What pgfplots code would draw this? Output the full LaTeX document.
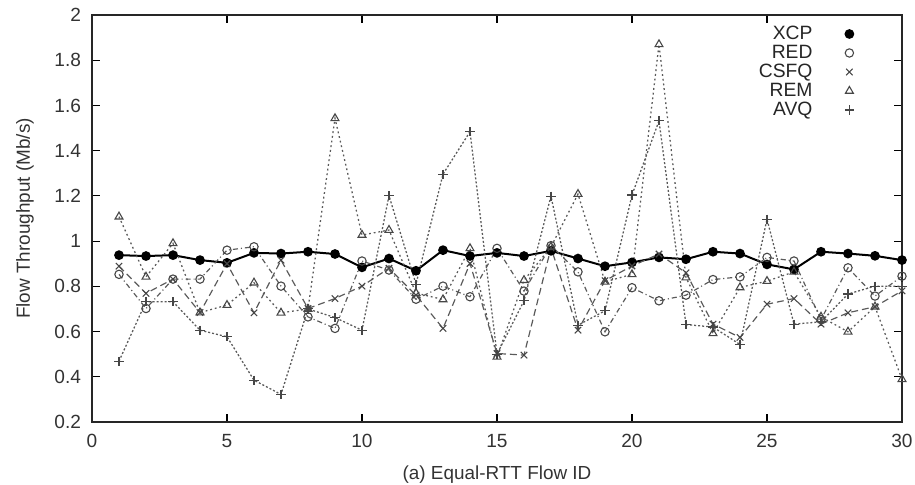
\documentclass[border=0pt]{standalone}
\usepackage{fontspec}
\setmainfont{Liberation Sans}
\usepackage{pgfplots}
\pgfplotsset{compat=1.18}
\definecolor{ln}{RGB}{90,90,90}
\definecolor{mk}{RGB}{70,70,70}
\begin{document}
\begin{tikzpicture}
\begin{axis}[
  name=ax, at={(0,0)}, anchor=south west,
  scale only axis, width=445.5pt, height=223.85pt,
  xmin=0, xmax=30, ymin=0.2, ymax=2,
  xtick={0,5,10,15,20,25,30},
  ytick={0.2,0.4,0.6,0.8,1,1.2,1.4,1.6,1.8,2},
  tick align=inside, major tick length=4.4pt,
  tick style={line width=0.6pt, black},
  axis line style={line width=0.8pt, black!85},
  /pgf/number format/assume math mode=true,
  tick label style={font=\fontsize{10.5}{12}\selectfont, text=black!80},
  xticklabel style={yshift=-3pt},
  yticklabel style={xshift=-2.5pt},
  xlabel={(a) Equal-RTT Flow ID},
  ylabel={Flow Throughput (Mb/s)},
  label style={font=\fontsize{10.4}{12}\selectfont, text=black!80},
  xlabel style={yshift=-3pt},
  ylabel style={yshift=4.5pt},
  legend cell align=right,
  legend plot pos=right,
  legend style={at={(rel axis cs:0.956,0.992)}, anchor=north east, draw=none, fill=none,
    font=\fontsize{10.6}{10.6}\selectfont, text=black!85, row sep=-2.4pt,
    /tikz/every even column/.append style={column sep=0pt}},
  legend image code/.code={\path (0cm,0cm) (0.82cm,0cm); \draw[#1] plot[only marks] coordinates {(0.624cm,0cm)};},
]
\addplot[black, line width=1.1pt, mark=*, mark size=2.1pt, mark options={solid, fill=black}] coordinates {
(1,0.938)(2,0.934)(3,0.938)(4,0.916)(5,0.904)(6,0.948)(7,0.945)(8,0.953)(9,0.943)(10,0.884)
(11,0.923)(12,0.869)(13,0.960)(14,0.934)(15,0.948)(16,0.934)(17,0.957)(18,0.923)(19,0.889)(20,0.906)
(21,0.928)(22,0.920)(23,0.953)(24,0.945)(25,0.897)(26,0.875)(27,0.953)(28,0.945)(29,0.935)(30,0.916)};
\addlegendentry{XCP}
\addplot[ln, line width=0.65pt, dash pattern=on 2.8pt off 1.6pt on 0.6pt off 1.6pt, mark=o, mark size=2.3pt, mark options={solid, mk, line width=0.6pt}] coordinates {
(1,0.853)(2,0.702)(3,0.832)(4,0.832)(5,0.960)(6,0.975)(7,0.801)(8,0.665)(9,0.614)(10,0.912)
(11,0.872)(12,0.743)(13,0.801)(14,0.754)(15,0.968)(16,0.779)(17,0.980)(18,0.864)(19,0.599)(20,0.794)
(21,0.736)(22,0.761)(23,0.830)(24,0.842)(25,0.928)(26,0.912)(27,0.653)(28,0.882)(29,0.757)(30,0.845)};
\addlegendentry{RED}
\addplot[ln, line width=0.65pt, dash pattern=on 3.8pt off 2.2pt, mark=x, mark size=2.5pt, mark options={solid, mk, line width=0.6pt}] coordinates {
(1,0.889)(2,0.769)(3,0.832)(4,0.684)(5,0.900)(6,0.683)(7,0.916)(8,0.702)(9,0.746)(10,0.801)
(11,0.880)(12,0.761)(13,0.614)(14,0.901)(15,0.503)(16,0.496)(17,0.970)(18,0.606)(19,0.825)(20,0.890)
(21,0.943)(22,0.860)(23,0.633)(24,0.574)(25,0.721)(26,0.746)(27,0.633)(28,0.683)(29,0.710)(30,0.780)};
\addlegendentry{CSFQ}
\addplot[ln, line width=0.7pt, dash pattern=on 1pt off 1.6pt, mark=triangle, mark size=2.5pt, mark options={solid, mk, line width=0.6pt}] coordinates {
(1,1.108)(2,0.842)(3,0.990)(4,0.684)(5,0.717)(6,0.816)(7,0.683)(8,0.700)(9,1.543)(10,1.027)
(11,1.049)(12,0.770)(13,0.742)(14,0.968)(15,0.488)(16,0.827)(17,0.975)(18,1.208)(19,0.820)(20,0.853)
(21,1.870)(22,0.839)(23,0.592)(24,0.795)(25,0.823)(26,0.864)(27,0.665)(28,0.599)(29,0.710)(30,0.389)};
\addlegendentry{REM}
\addplot[ln, line width=0.7pt, dash pattern=on 1.1pt off 1.1pt, mark=+, mark size=2.5pt, mark options={solid, mk, line width=0.6pt}] coordinates {
(1,0.469)(2,0.732)(3,0.732)(4,0.606)(5,0.577)(6,0.385)(7,0.322)(8,0.700)(9,0.662)(10,0.606)
(11,1.201)(12,0.810)(13,1.296)(14,1.484)(15,0.500)(16,0.736)(17,1.199)(18,0.628)(19,0.692)(20,1.204)
(21,1.532)(22,0.631)(23,0.620)(24,0.543)(25,1.097)(26,0.633)(27,0.643)(28,0.766)(29,0.801)(30,0.800)};
\addlegendentry{AVQ}
\end{axis}
\pgfresetboundingbox
\path (-50.6pt,-34.1pt) rectangle (452.65pt,232.1pt);
\end{tikzpicture}
\end{document}
